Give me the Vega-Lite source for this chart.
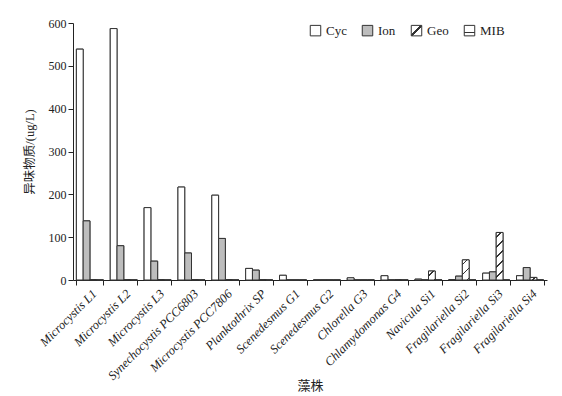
{
  "$schema": "https://vega.github.io/schema/vega-lite/v6.json",
  "width": 474,
  "height": 257,
  "autosize": {"type": "none"},
  "padding": {"left": 73, "top": 23, "right": 15, "bottom": 116},
  "background": "white",
  "params": [
    {"name": "geoStops", "value": [
      {"offset": 0, "color": "white"},
      {"offset": 0.0425, "color": "white"}, {"offset": 0.0425, "color": "#333"}, {"offset": 0.0575, "color": "#333"}, {"offset": 0.0575, "color": "white"},
      {"offset": 0.1425, "color": "white"}, {"offset": 0.1425, "color": "#333"}, {"offset": 0.1575, "color": "#333"}, {"offset": 0.1575, "color": "white"},
      {"offset": 0.2425, "color": "white"}, {"offset": 0.2425, "color": "#333"}, {"offset": 0.2575, "color": "#333"}, {"offset": 0.2575, "color": "white"},
      {"offset": 0.3425, "color": "white"}, {"offset": 0.3425, "color": "#333"}, {"offset": 0.3575, "color": "#333"}, {"offset": 0.3575, "color": "white"},
      {"offset": 0.4425, "color": "white"}, {"offset": 0.4425, "color": "#333"}, {"offset": 0.4575, "color": "#333"}, {"offset": 0.4575, "color": "white"},
      {"offset": 0.5425, "color": "white"}, {"offset": 0.5425, "color": "#333"}, {"offset": 0.5575, "color": "#333"}, {"offset": 0.5575, "color": "white"},
      {"offset": 0.6425, "color": "white"}, {"offset": 0.6425, "color": "#333"}, {"offset": 0.6575, "color": "#333"}, {"offset": 0.6575, "color": "white"},
      {"offset": 0.7425, "color": "white"}, {"offset": 0.7425, "color": "#333"}, {"offset": 0.7575, "color": "#333"}, {"offset": 0.7575, "color": "white"},
      {"offset": 0.8425, "color": "white"}, {"offset": 0.8425, "color": "#333"}, {"offset": 0.8575, "color": "#333"}, {"offset": 0.8575, "color": "white"},
      {"offset": 0.9425, "color": "white"}, {"offset": 0.9425, "color": "#333"}, {"offset": 0.9575, "color": "#333"}, {"offset": 0.9575, "color": "white"},
      {"offset": 1, "color": "white"}
    ]}
  ],
  "data": {"values": [
    {"strain": "Microcystis L1", "Cyc": 539, "Ion": 138, "Geo": 1, "MIB": 0},
    {"strain": "Microcystis L2", "Cyc": 587, "Ion": 80, "Geo": 1, "MIB": 0},
    {"strain": "Microcystis L3", "Cyc": 169, "Ion": 44, "Geo": 1, "MIB": 0},
    {"strain": "Synechocystis PCC6803", "Cyc": 217, "Ion": 63, "Geo": 1, "MIB": 0},
    {"strain": "Microcystis PCC7806", "Cyc": 198, "Ion": 97, "Geo": 1, "MIB": 0},
    {"strain": "Planktothrix SP", "Cyc": 27, "Ion": 23, "Geo": 1, "MIB": 0},
    {"strain": "Scenedesmus G1", "Cyc": 11, "Ion": 0, "Geo": 0, "MIB": 0},
    {"strain": "Scenedesmus G2", "Cyc": 0, "Ion": 0, "Geo": 0, "MIB": 0},
    {"strain": "Chlorella G3", "Cyc": 5, "Ion": 0, "Geo": 0, "MIB": 0},
    {"strain": "Chlamydomonas G4", "Cyc": 10, "Ion": 0, "Geo": 1, "MIB": 0},
    {"strain": "Navicula Si1", "Cyc": 2, "Ion": 0, "Geo": 21, "MIB": 0},
    {"strain": "Fragilariella Si2", "Cyc": 1, "Ion": 9, "Geo": 47, "MIB": 0},
    {"strain": "Fragilariella Si3", "Cyc": 16, "Ion": 19, "Geo": 111, "MIB": 0},
    {"strain": "Fragilariella Si4", "Cyc": 10, "Ion": 29, "Geo": 6, "MIB": 0}
  ]},
  "transform": [
    {"fold": ["Cyc", "Ion", "Geo", "MIB"], "as": ["series", "value"]}
  ],
  "encoding": {
    "x": {
      "field": "strain",
      "type": "nominal",
      "sort": null,
      "scale": {"paddingInner": 0.2, "paddingOuter": 0.1},
      "axis": {
        "title": "藻株",
        "tickBand": "extent",
        "labelAngle": -45,
        "labelFontStyle": "italic",
        "labelFont": "Liberation Serif",
        "labelFontSize": 12.5,
        "labelPadding": 2,
        "labelColor": "#222",
        "tickSize": 5,
        "tickColor": "#222",
        "domainColor": "#222",
        "titleY": 105,
        "titleBaseline": "middle",
        "titleFont": "Liberation Serif, Noto Sans CJK SC",
        "titleFontSize": 13,
        "titleFontWeight": "normal",
        "titleColor": "#222"
      }
    },
    "xOffset": {"field": "series", "type": "nominal", "sort": ["Cyc", "Ion", "Geo", "MIB"]},
    "y": {
      "field": "value",
      "type": "quantitative",
      "scale": {"domain": [0, 600]},
      "axis": {
        "title": "异味物质/(ug/L)",
        "values": [0, 100, 200, 300, 400, 500, 600],
        "grid": false,
        "tickSize": 5,
        "labelPadding": 2,
        "titlePadding": 12,
        "labelFont": "Liberation Serif",
        "labelFontSize": 12,
        "labelColor": "#222",
        "tickColor": "#222",
        "domainColor": "#222",
        "titleFont": "Liberation Serif, Noto Sans CJK SC",
        "titleFontSize": 12.5,
        "titleFontWeight": "normal",
        "titleColor": "#222"
      }
    }
  },
  "layer": [
    {
      "mark": {"type": "bar", "stroke": "#333", "strokeWidth": 1},
      "encoding": {
        "fill": {
          "field": "series",
          "type": "nominal",
          "sort": ["Cyc", "Ion", "Geo", "MIB"],
          "scale": {
            "domain": ["Cyc", "Ion", "Geo", "MIB"],
            "range": [
              "white",
              "#bdbdbd",
              {"expr": "{gradient: 'linear', x1: 0, y1: 0, x2: 1, y2: 1, stops: [{offset: 0, color: 'white'}, {offset: 0.44, color: 'white'}, {offset: 0.44, color: '#333'}, {offset: 0.56, color: '#333'}, {offset: 0.56, color: 'white'}, {offset: 1, color: 'white'}]}"},
              {"expr": "{gradient: 'linear', x1: 0, y1: 0, x2: 0, y2: 1, stops: [{offset: 0, color: 'white'}, {offset: 0.3, color: 'white'}, {offset: 0.3, color: '#333'}, {offset: 0.38, color: '#333'}, {offset: 0.38, color: 'white'}, {offset: 0.62, color: 'white'}, {offset: 0.62, color: '#333'}, {offset: 0.7, color: '#333'}, {offset: 0.7, color: 'white'}, {offset: 1, color: 'white'}]}"}
            ]
          },
          "legend": {
            "title": null,
            "orient": "none",
            "legendX": 236,
            "legendY": 1,
            "direction": "horizontal",
            "columnPadding": 13,
            "symbolType": "square",
            "symbolSize": 110,
            "symbolStrokeWidth": 1,
            "symbolStrokeColor": "#333",
            "labelFont": "Liberation Serif",
            "labelFontSize": 13,
            "labelColor": "#222",
            "labelOffset": 4
          }
        }
      }
    },
    {
      "mark": {
        "type": "bar",
        "stroke": "#333",
        "strokeWidth": 1,
        "fill": {"expr": "datum.series === 'Cyc' ? 'white' : datum.series === 'Ion' ? '#bdbdbd' : datum.series === 'Geo' ? {gradient: 'linear', x1: 0, y1: 0, x2: 100 * (bandwidth('x') / 4) / (pow(bandwidth('x') / 4, 2) + pow(scale('y', 0) - scale('y', datum.value), 2) + 0.01), y2: 100 * (scale('y', 0) - scale('y', datum.value)) / (pow(bandwidth('x') / 4, 2) + pow(scale('y', 0) - scale('y', datum.value), 2) + 0.01), stops: geoStops} : 'white'"}
      }
    }
  ],
  "config": {
    "view": {"stroke": null}
  }
}
